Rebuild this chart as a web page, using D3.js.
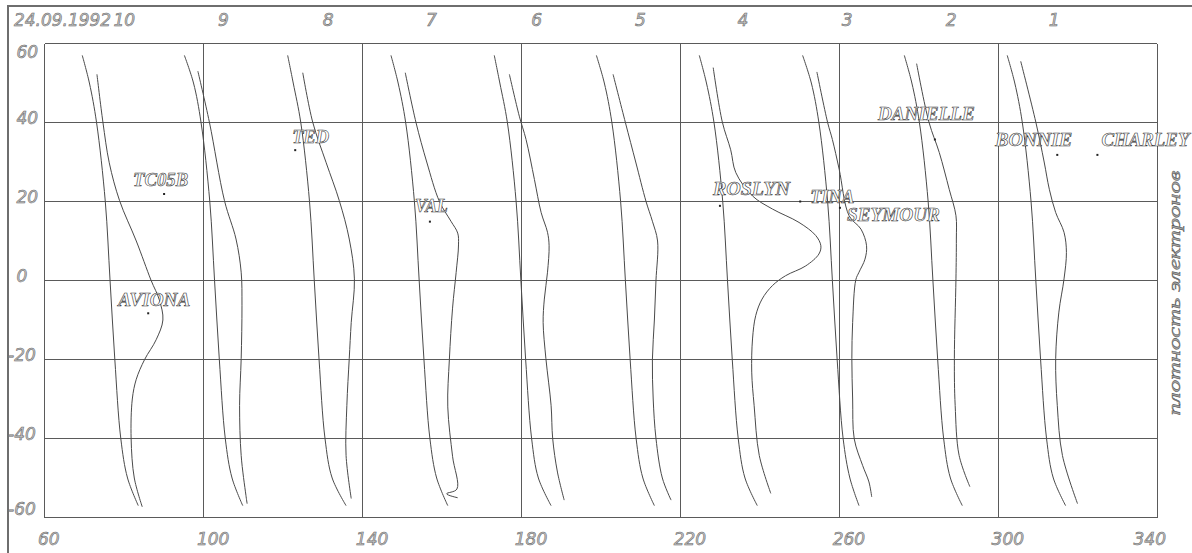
<!DOCTYPE html>
<html>
<head>
<meta charset="utf-8">
<script src="https://cdn.jsdelivr.net/npm/d3@7"></script>
<style>
  body { margin: 0; background: #fff; }
  svg { display: block; }
  .num { font-family: "DejaVu Sans", sans-serif; font-style: italic; font-size: 17px;
         fill: #c4c4c4; stroke: #666; stroke-width: 0.55px; }
  .stn { font-family: "Liberation Serif", serif; font-style: italic; font-weight: bold; font-size: 19px;
         fill: #fff; stroke: #333; stroke-width: 0.6px; }
  .ttl { font-family: "Liberation Serif", serif; font-style: italic; font-size: 17px;
         fill: #a8a8a8; stroke: #555; stroke-width: 0.45px; }
</style>
</head>
<body>
<svg id="chart" width="1192" height="553"></svg>
<script>
// --- data ---
const dateLabel = '24.09.1992';
const yTitle = 'плотность электронов';
const lonTicks = [60, 100, 140, 180, 220, 260, 300, 340];
const latTicks = [60, 40, 20, 0, -20, -40, -60];

const orbitNames = ['10', '9', '8', '7', '6', '5', '4', '3', '2', '1'];
const orbitLabelLon = [80.1, 105.0, 131.4, 157.4, 183.9, 210.0, 235.8, 262.0, 288.2, 314.1];

// satellite tracks: longitude at each of these latitudes
const trackLat = [57, 50, 40, 20, 0, -20, -40, -50, -57];
const trackLon = [
  [69.5, 71.3, 73.1, 75.3, 76.5, 77.7, 79.2, 80.9, 83.6],
  [95.2, 97.5, 99.4, 101.6, 102.8, 104.0, 105.5, 107.2, 109.9],
  [121.2, 122.6, 124.5, 126.7, 127.9, 129.1, 130.6, 132.4, 135.9],
  [147.2, 149.0, 150.9, 153.1, 154.3, 155.5, 157.0, 158.7, 161.5],
  [173.2, 174.6, 176.5, 178.7, 179.9, 181.1, 182.6, 184.3, 187.5],
  [198.9, 200.9, 202.8, 205.0, 206.2, 207.4, 208.9, 210.6, 213.5],
  [224.8, 226.6, 228.5, 230.7, 231.9, 233.1, 234.6, 236.3, 239.4],
  [250.8, 253.0, 254.9, 257.1, 258.3, 259.5, 261.0, 262.7, 265.0],
  [276.4, 278.3, 280.2, 282.4, 283.6, 284.8, 286.3, 288.0, 291.0],
  [302.3, 304.2, 306.1, 308.3, 309.5, 310.7, 312.2, 313.9, 317.0]
];

// electron density profiles, [lat, lon]
const density10 = [[52.2,73.2],[40.1,74.7],[29.8,76.3],[20.2,78.9],[10,83.1],[0.1,86.8],[-4.9,88.9],[-10,89.8],[-15,88.1],[-20,85.2],[-25,83.1],[-30,82.1],[-40,81.8],[-50,82.6],[-57.3,84.6]];
const density9 = [[53,98.6],[40.1,101.5],[20.2,105.3],[10.5,108.2],[2.1,109.5],[-6.4,109.7],[-19.8,109.5],[-31.6,109.1],[-44.3,109.5],[-54.4,110.7],[-56.5,111.0]];
const density8 = [[52.6,125.0],[40.1,127.5],[29.8,130.9],[20.2,134.2],[10.5,136.7],[0.4,138.0],[-10.6,137.2],[-19.8,136.7],[-31.6,136.1],[-44.3,135.9],[-55.2,137.2]];
const density7 = [[52.6,150.8],[40,153.5],[30,156.2],[20,159.4],[15,162.3],[12,164.0],[9,164.2],[2,163.6],[-7,162.7],[-20,161.9],[-32,161.5],[-44.5,162.7],[-52.8,163.8],[-54.0,161.2],[-55.0,164.0]];
const density6 = [[52.2,177.0],[41.6,179.5],[35.7,181.2],[25.6,183.3],[17.2,185.0],[12.2,186.6],[8.8,187.0],[2.1,186.6],[-4.7,185.8],[-10.6,185.5],[-19.8,186.2],[-31.6,187.5],[-40,187.9],[-48.5,189.1],[-55.6,190.8]];
const density5 = [[52.2,203.1],[40,206.2],[30,208.8],[20,211.4],[15,213.0],[10,214.3],[0,213.9],[-10,213.5],[-20,213.0],[-30,213.2],[-40,213.9],[-50,215.5],[-55.6,217.7]];
const density4 = [[53.9,228.3],[40.1,230.6],[33.1,232.7],[27.3,234.0],[21.4,238.2],[18.1,243.2],[14.7,249.9],[11.4,254.1],[8.8,255.4],[6.7,254.9],[3.7,251.6],[1.2,246.5],[-1.3,243.2],[-4.7,240.6],[-8.9,239.0],[-14.8,238.2],[-23.2,238.0],[-31.6,238.6],[-44.3,239.9],[-53.9,242.8]];
const density3 = [[52.8,254.4],[40,257.1],[35.7,258.3],[28.2,260.0],[16.4,262.5],[13.0,265.5],[8.8,266.9],[5.4,266.5],[2.1,265.0],[0.2,264.2],[-10.6,263.4],[-19.8,263.2],[-30,263.4],[-40.1,263.8],[-46.8,265.9],[-51.0,267.5],[-54.8,268.2]];
const density2 = [[54.9,279.5],[40.1,282.6],[32.4,285.2],[23.1,287.7],[16.4,289.4],[10.5,289.5],[0.4,289.4],[-19.8,289.0],[-31.6,289.2],[-44.3,290.2],[-52.2,292.9]];
const density1 = [[55.5,305.7],[40.1,309.5],[30,311.6],[23.1,312.9],[17.2,314.5],[12.2,316.6],[7.1,317.2],[0.4,316.6],[-8,315.3],[-19.8,314.5],[-31.6,314.9],[-44.3,316.2],[-56.5,320.0]];
const densityCurves = [density10, density9, density8, density7, density6, density5, density4, density3, density2, density1];

// stations
const stationNames = ['TC05B', 'AVIONA', 'TED', 'VAL', 'ROSLYN', 'TINA', 'SEYMOUR', 'DANIELLE', 'BONNIE', 'CHARLEY'];
const stationLon = [90.1, 86.1, 123.1, 157.0, 230.0, 250.2, 260.2, 284.1, 314.9, 325.0];
const stationLat = [21.9, -8.3, 33.0, 14.9, 18.9, 20.0, 18.4, 35.7, 31.8, 31.8];

// --- layout ---
const svg = d3.select('#chart');
const pLeft = 44.5, pRight = 1157, pTop = 43.5, pBottom = 517.5;

const x = d3.scaleLinear().domain([60, 340]).range([pLeft, pRight]);
const y = d3.scaleLinear().domain([60, -60]).range([pTop, pBottom]);

// outer frame (top + left edge)
svg.append('path')
  .attr('d', 'M8,553 L8,6 L1192,6')
  .attr('fill', 'none').attr('stroke', '#6e6e6e').attr('stroke-width', 2);

// grid
const grid = svg.append('g').attr('stroke', '#5a5a5a').attr('stroke-width', 1).attr('fill', 'none')
  .attr('shape-rendering', 'crispEdges');
grid.selectAll('line.v').data(lonTicks).enter().append('line')
  .attr('x1', d => x(d)).attr('x2', d => x(d)).attr('y1', pTop).attr('y2', pBottom);
grid.selectAll('line.h').data(latTicks).enter().append('line')
  .attr('x1', pLeft).attr('x2', pRight).attr('y1', d => y(d)).attr('y2', d => y(d));

// lon labels along the bottom
svg.selectAll('text.lon').data(lonTicks).enter().append('text')
  .attr('class', 'num')
  .attr('x', (d, i) => i === lonTicks.length - 1 ? x(d) + 9 : x(d) - 6.5)
  .attr('y', 545)
  .attr('text-anchor', (d, i) => i === lonTicks.length - 1 ? 'end' : 'start')
  .text(d => d);

// lat labels on the left
svg.selectAll('text.lat').data(latTicks).enter().append('text')
  .attr('class', 'num')
  .attr('x', d => d < 0 ? 8 : 16.5)
  .attr('y', d => d === 60 ? y(d) + 14.5 : (d === -60 ? y(d) - 2.5 : y(d) + 1.5))
  .text(d => d < 0 ? '-' + Math.abs(d) : d);

// date + orbit numbers on top
svg.append('text').attr('class', 'num').attr('x', 14).attr('y', 26)
  .attr('textLength', 97).attr('lengthAdjust', 'spacingAndGlyphs').text(dateLabel);
svg.selectAll('text.orb').data(orbitNames).enter().append('text')
  .attr('class', 'num')
  .attr('x', (d, i) => x(orbitLabelLon[i]))
  .attr('y', 26)
  .attr('text-anchor', 'middle')
  .text(d => d);

// curves
const line = d3.line()
  .x(d => x(d[1]))
  .y(d => y(d[0]))
  .curve(d3.curveCatmullRom.alpha(0.5));

const curves = svg.append('g').attr('fill', 'none').attr('stroke', '#4a4a4a').attr('stroke-width', 1);
curves.selectAll('path.track').data(trackLon).enter().append('path')
  .attr('d', lons => line(lons.map((v, i) => [trackLat[i], v])));
curves.selectAll('path.dens').data(densityCurves).enter().append('path')
  .attr('d', d => line(d));

// stations: dot + hollow label
const lblOff = {
  TC05B: [-31, -7.5, 55], AVIONA: [-30, -7, 72], TED: [-3, -7.5, 37], VAL: [-15, -10, 33],
  ROSLYN: [-7, -11, 77], TINA: [10, 1.5, 44], SEYMOUR: [7, 13.5, 93], DANIELLE: [-57, -19.5, 97],
  BONNIE: [-62, -8.5, 77], CHARLEY: [4, -8.5, 88]
};
const st = svg.selectAll('g.stn').data(stationNames).enter().append('g')
  .attr('transform', (d, i) => `translate(${x(stationLon[i])},${y(stationLat[i])})`);
st.append('rect').attr('x', -1).attr('y', -1).attr('width', 2).attr('height', 2).attr('fill', '#222');
st.append('text').attr('class', 'stn')
  .attr('x', d => lblOff[d][0]).attr('y', d => lblOff[d][1])
  .attr('textLength', d => lblOff[d][2]).attr('lengthAdjust', 'spacingAndGlyphs')
  .text(d => d);

// vertical title on the right
svg.append('text').attr('class', 'ttl')
  .attr('transform', 'translate(1180,293) rotate(-90)')
  .attr('text-anchor', 'middle')
  .attr('textLength', 245).attr('lengthAdjust', 'spacingAndGlyphs')
  .text(yTitle);
</script>
</body>
</html>
